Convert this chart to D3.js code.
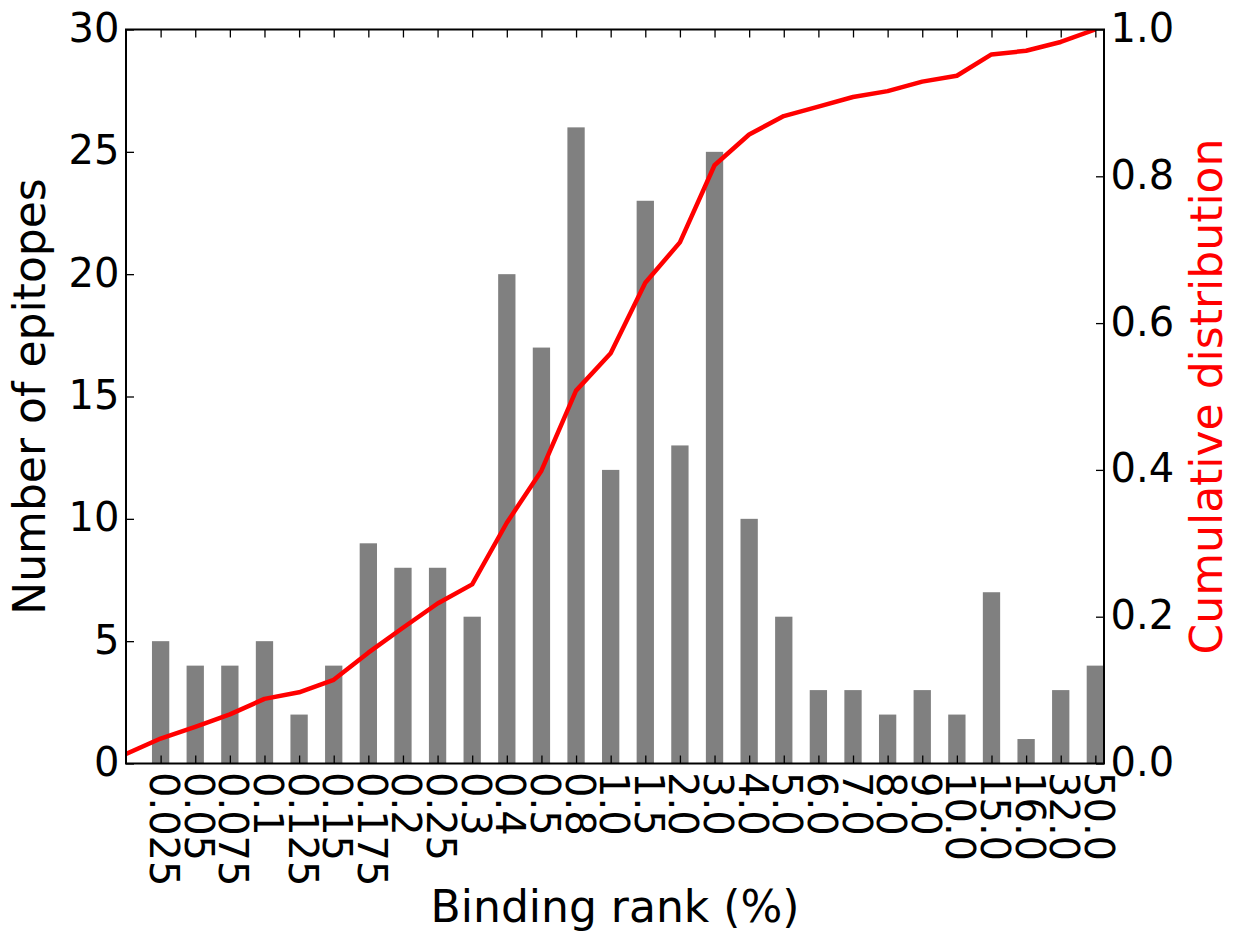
<!DOCTYPE html>
<html><head><meta charset="utf-8">
<script src="https://cdn.jsdelivr.net/npm/d3@7"></script>
<style>
body{margin:0;background:#fff}
text{font-family:"DejaVu Sans",sans-serif}
</style>
</head><body>
<svg id="chart" width="1235" height="934"></svg>
<script>
// ---- data ----
const categories = ["0.025","0.05","0.075","0.1","0.125","0.15","0.175","0.2","0.25","0.3","0.4","0.5","0.8","1.0","1.5","2.0","3.0","4.0","5.0","6.0","7.0","8.0","9.0","10.0","15.0","16.0","32.0","50.0"];
const counts = [5,4,4,5,2,4,9,8,8,6,20,17,26,12,23,13,25,10,6,3,3,2,3,2,7,1,3,4];
// cumulative curve: first value sits one slot before the first category
const cumulative = [0.013,0.034,0.050,0.067,0.088,0.097,0.114,0.151,0.185,0.218,0.244,0.328,0.399,0.508,0.559,0.655,0.710,0.815,0.857,0.882,0.895,0.908,0.916,0.929,0.937,0.966,0.971,0.983,1.000];
const leftTicks = [0,5,10,15,20,25,30];
const rightTicks = [0.0,0.2,0.4,0.6,0.8,1.0];

// ---- layout ----
const L = 126, R = 1104, T = 29.5, B = 763.5;
const svg = d3.select("#chart");

const x = d3.scaleLinear().domain([-1, 27.25]).range([L, R]);
const yL = d3.scaleLinear().domain([0, 30]).range([B, T]);
const yR = d3.scaleLinear().domain([0, 1]).range([B, T]);
const barW = x(0.5) - x(0);

svg.append("defs").append("clipPath").attr("id","plotclip")
  .append("rect").attr("x",L).attr("y",T).attr("width",R-L).attr("height",B-T);

// bars
svg.append("g").attr("clip-path","url(#plotclip)")
  .selectAll("rect").data(counts).join("rect")
  .attr("x",(d,i)=>x(i)-barW/2)
  .attr("width",barW)
  .attr("y",d=>yL(d))
  .attr("height",d=>B-yL(d))
  .attr("fill","#808080");

// line
const line = d3.line().x((d,i)=>x(i-1)).y(d=>yR(d));
svg.append("path").attr("clip-path","url(#plotclip)")
  .datum(cumulative)
  .attr("d",line)
  .attr("fill","none")
  .attr("stroke","#ff0000")
  .attr("stroke-width",4.5)
  .attr("stroke-linejoin","round");

const tickFont = 40;

// bottom axis
const xAxis = d3.axisBottom(x).tickValues(d3.range(categories.length))
  .tickFormat(i=>categories[i]).tickSizeInner(-8).tickSizeOuter(0);
const gx = svg.append("g").attr("transform",`translate(0,${B})`).call(xAxis);
gx.select(".domain").remove();
gx.selectAll("line").attr("stroke","#000").attr("stroke-width",1.3);
gx.selectAll("text")
  .attr("transform","rotate(90)")
  .attr("x",8.5).attr("y",11).attr("dy",0)
  .attr("text-anchor","start")
  .attr("font-size",tickFont).attr("fill","#000");

// top axis ticks
const xTop = d3.axisTop(x).tickValues(d3.range(categories.length))
  .tickFormat("").tickSizeInner(-8).tickSizeOuter(0);
const gt = svg.append("g").attr("transform",`translate(0,${T})`).call(xTop);
gt.select(".domain").remove();
gt.selectAll("line").attr("stroke","#000").attr("stroke-width",1.3);

// left axis
const yAxisL = d3.axisLeft(yL).tickValues(leftTicks).tickSizeInner(-8).tickSizeOuter(0).tickPadding(6.5);
const gl = svg.append("g").attr("transform",`translate(${L},0)`).call(yAxisL);
gl.select(".domain").remove();
gl.selectAll("line").attr("stroke","#000").attr("stroke-width",1.3);
gl.selectAll("text").attr("font-size",tickFont).attr("dy","0.3em").attr("fill","#000");

// right axis
const yAxisR = d3.axisRight(yR).tickValues(rightTicks).tickFormat(d3.format(".1f"))
  .tickSizeInner(-8).tickSizeOuter(0).tickPadding(6.5);
const gr = svg.append("g").attr("transform",`translate(${R},0)`).call(yAxisR);
gr.select(".domain").remove();
gr.selectAll("line").attr("stroke","#000").attr("stroke-width",1.3);
gr.selectAll("text").attr("font-size",tickFont).attr("dy","0.3em").attr("fill","#000");

// spines
svg.append("rect").attr("x",L).attr("y",T).attr("width",R-L).attr("height",B-T)
  .attr("fill","none").attr("stroke","#000").attr("stroke-width",2);

// axis titles
svg.append("text").attr("x",(L+R)/2).attr("y",922).attr("text-anchor","middle")
  .attr("font-size",44).text("Binding rank (%)");
svg.append("text").attr("transform",`translate(45,${(T+B)/2}) rotate(-90)`)
  .attr("text-anchor","middle").attr("font-size",44).text("Number of epitopes");
svg.append("text").attr("transform",`translate(1222,${(T+B)/2}) rotate(-90)`)
  .attr("text-anchor","middle").attr("font-size",44).attr("fill","#ff0000").text("Cumulative distribution");
</script>
</body></html>
